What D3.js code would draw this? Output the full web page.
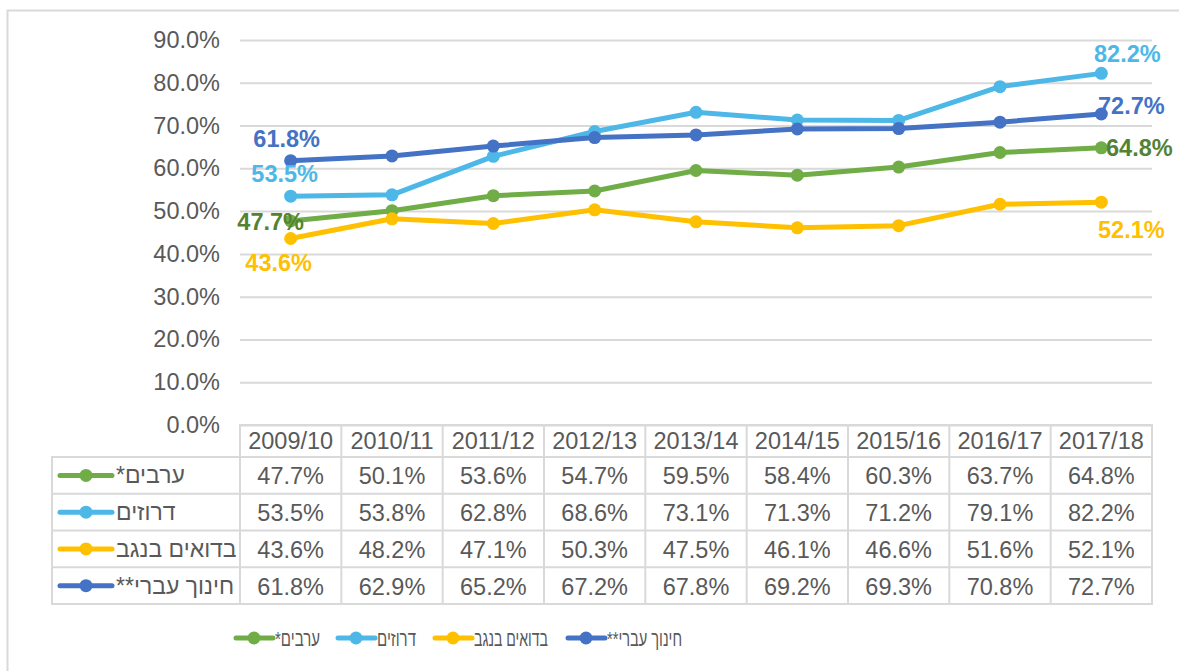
<!DOCTYPE html>
<html>
<head>
<meta charset="utf-8">
<script src="https://cdn.jsdelivr.net/npm/d3@7"></script>
<style>
  body { margin: 0; background: #fff; }
  svg { display: block; font-family: "Liberation Sans", Arial, sans-serif; }
</style>
</head>
<body>
<svg id="chart" width="1179" height="671"></svg>
<script>
// data
const categories = ['2009/10', '2010/11', '2011/12', '2012/13', '2013/14', '2014/15', '2015/16', '2016/17', '2017/18'];
const seriesNames = ['ערבים*', 'דרוזים', 'בדואים בנגב', 'חינוך עברי**'];
const arabs = [47.7, 50.1, 53.6, 54.7, 59.5, 58.4, 60.3, 63.7, 64.8];
const druze = [53.5, 53.8, 62.8, 68.6, 73.1, 71.3, 71.2, 79.1, 82.2];
const bedouin = [43.6, 48.2, 47.1, 50.3, 47.5, 46.1, 46.6, 51.6, 52.1];
const hebrew = [61.8, 62.9, 65.2, 67.2, 67.8, 69.2, 69.3, 70.8, 72.7];
const yTicks = [0, 10, 20, 30, 40, 50, 60, 70, 80, 90];

const seriesValues = [arabs, druze, bedouin, hebrew];

// styles
const lineColors = ['#70AD47', '#4DB8E8', '#FFC000', '#4472C4'];
const labelColors = ['#548235', '#4DB8E8', '#FFC000', '#4472C4'];
// offsets of the first / last point labels from their marker (text centre)
const labelOffsets = [
  {first: [-20, 9], last: [38, 8]},
  {first: [-6, -14], last: [26, -11]},
  {first: [-12, 33], last: [30, 36]},
  {first: [-4, -14], last: [30, 0]}
];

const svg = d3.select('#chart');
const textColor = '#595959';
const gridColor = '#d9d9d9';

// outer frame
svg.append('rect')
  .attr('x', 7.5).attr('y', 10.5)
  .attr('width', 1200).attr('height', 700)
  .attr('fill', 'none').attr('stroke', gridColor).attr('stroke-width', 2);

const x = d3.scaleBand().domain(categories).range([240, 1152]);
const y = d3.scaleLinear().domain([0, 90]).range([425, 40]);
const cx = c => x(c) + x.bandwidth() / 2;

// gridlines + y labels
const yAxis = svg.append('g')
  .attr('transform', 'translate(240,0)')
  .call(d3.axisLeft(y).tickValues(yTicks).tickSize(-912).tickFormat(d => d.toFixed(1) + '%').tickPadding(20));
yAxis.select('.domain').remove();
yAxis.selectAll('.tick line').attr('stroke', gridColor).attr('stroke-width', 2);
yAxis.selectAll('.tick text')
  .attr('fill', textColor)
  .style('font-size', '23.5px')
  .attr('font-family', '"Liberation Sans", Arial, sans-serif');

// lines
const line = d3.line()
  .x((d, i) => cx(categories[i]))
  .y(d => y(d));

seriesValues.forEach((vals, s) => {
  const g = svg.append('g');
  g.append('path')
    .datum(vals)
    .attr('d', line)
    .attr('fill', 'none')
    .attr('stroke', lineColors[s])
    .attr('stroke-width', 5)
    .attr('stroke-linejoin', 'round');
  g.selectAll('circle')
    .data(vals)
    .join('circle')
    .attr('cx', (d, i) => cx(categories[i]))
    .attr('cy', d => y(d))
    .attr('r', 6.5)
    .attr('fill', lineColors[s]);
});

// data labels on first and last point
function placeLabel(s, i, off) {
  const v = seriesValues[s][i];
  svg.append('text')
    .text(v.toFixed(1) + '%')
    .attr('x', cx(categories[i]) + off[0])
    .attr('y', y(v) + off[1])
    .attr('text-anchor', 'middle')
    .attr('fill', labelColors[s])
    .attr('font-weight', 'bold')
    .style('font-size', '23.5px');
}
seriesValues.forEach((vals, s) => {
  placeLabel(s, 0, labelOffsets[s].first);
  placeLabel(s, vals.length - 1, labelOffsets[s].last);
});

// data table
const rows = d3.scaleBand().domain(seriesNames).range([457, 604]);
const table = svg.append('g');
const cellStroke = gridColor;

// header row
table.append('rect').attr('x', 240).attr('y', 425).attr('width', 912).attr('height', 32)
  .attr('fill', 'none').attr('stroke', cellStroke).attr('stroke-width', 2);
table.selectAll('.hdr')
  .data(categories)
  .join('text')
  .attr('x', d => cx(d))
  .attr('y', 449)
  .attr('text-anchor', 'middle')
  .attr('fill', textColor)
  .style('font-size', '23.5px')
  .text(d => d);

// body outline and vertical lines
table.append('rect').attr('x', 52).attr('y', 457).attr('width', 1100).attr('height', 147)
  .attr('fill', 'none').attr('stroke', cellStroke).attr('stroke-width', 2);
table.selectAll('.vline')
  .data(categories)
  .join('line')
  .attr('x1', d => x(d)).attr('x2', d => x(d))
  .attr('y1', 425).attr('y2', 604)
  .attr('stroke', cellStroke).attr('stroke-width', 2);
table.selectAll('.hline')
  .data(seriesNames.slice(1))
  .join('line')
  .attr('x1', 52).attr('x2', 1152)
  .attr('y1', d => rows(d)).attr('y2', d => rows(d))
  .attr('stroke', cellStroke).attr('stroke-width', 2);

seriesNames.forEach((name, s) => {
  const ry = rows(name) + rows.bandwidth() / 2;
  table.append('line')
    .attr('x1', 60).attr('x2', 112).attr('y1', ry).attr('y2', ry)
    .attr('stroke', lineColors[s]).attr('stroke-width', 5).attr('stroke-linecap', 'round');
  table.append('circle').attr('cx', 86).attr('cy', ry).attr('r', 6.5).attr('fill', lineColors[s]);
  table.append('text')
    .attr('x', 116).attr('y', ry + 8)
    .attr('direction', 'rtl')
    .attr('text-anchor', 'end')
    .attr('fill', textColor)
    .style('font-size', '23px')
    .text(name);
  table.selectAll('.val' + s)
    .data(seriesValues[s])
    .join('text')
    .attr('x', (d, i) => cx(categories[i]))
    .attr('y', ry + 9)
    .attr('text-anchor', 'middle')
    .attr('fill', textColor)
    .style('font-size', '23.5px')
    .text(d => d.toFixed(1) + '%');
});

// legend
const legendX = [236, 338, 435, 568];
const legendW = [45, 39, 74, 75];
const legend = svg.append('g');
seriesNames.forEach((name, s) => {
  const lx = legendX[s];
  legend.append('line')
    .attr('x1', lx).attr('x2', lx + 37).attr('y1', 638).attr('y2', 638)
    .attr('stroke', lineColors[s]).attr('stroke-width', 5).attr('stroke-linecap', 'round');
  legend.append('circle').attr('cx', lx + 18).attr('cy', 638).attr('r', 6.5).attr('fill', lineColors[s]);
  legend.append('text')
    .attr('x', lx + 39).attr('y', 646)
    .attr('direction', 'rtl')
    .attr('text-anchor', 'end')
    .attr('fill', textColor)
    .attr('textLength', legendW[s])
    .attr('lengthAdjust', 'spacingAndGlyphs')
    .style('font-size', '21px')
    .text(name);
});
</script>
</body>
</html>
